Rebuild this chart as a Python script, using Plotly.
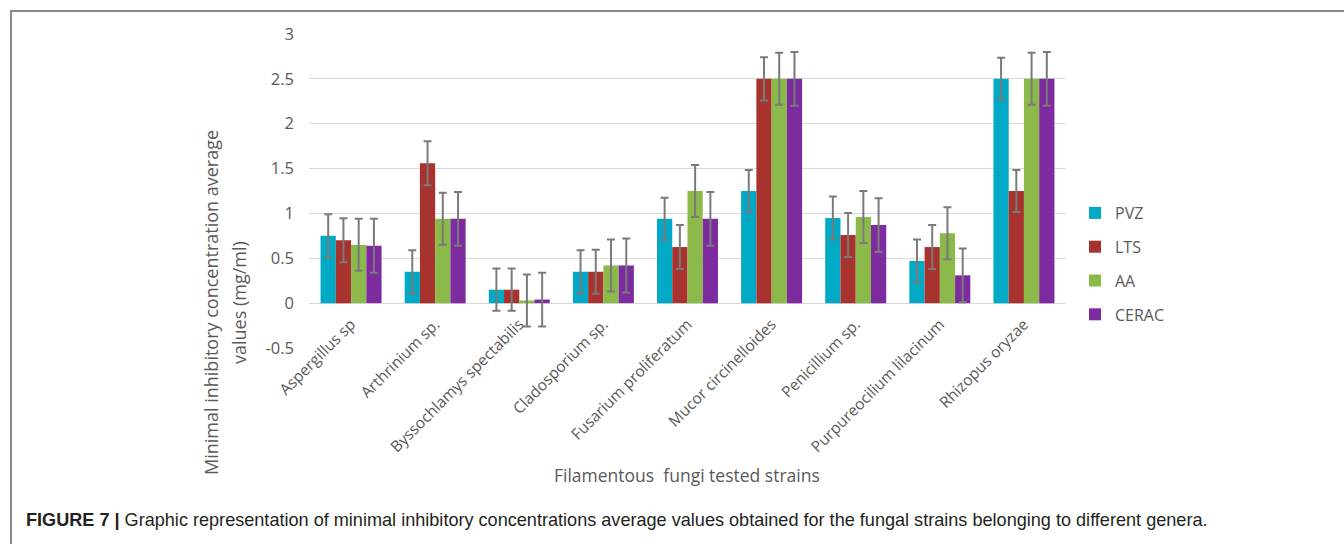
import plotly.graph_objects as go

categories = ["Aspergillus sp", "Arthrinium sp.", "Byssochlamys spectabilis", "Cladosporium sp.",
              "Fusarium proliferatum", "Mucor circinelloides", "Penicillium sp.",
              "Purpureocilium lilacinum", "Rhizopus oryzae"]
series_names = ["PVZ", "LTS", "AA", "CERAC"]

pvz = [0.75, 0.35, 0.15, 0.35, 0.94, 1.25, 0.95, 0.47, 2.5]
lts = [0.70, 1.56, 0.15, 0.35, 0.625, 2.5, 0.76, 0.625, 1.25]
aa = [0.65, 0.94, 0.03, 0.42, 1.25, 2.5, 0.96, 0.78, 2.5]
cerac = [0.64, 0.94, 0.04, 0.42, 0.94, 2.5, 0.87, 0.31, 2.5]

pvz_err = [0.24, 0.24, 0.235, 0.24, 0.235, 0.235, 0.24, 0.24, 0.235]
lts_err = [0.245, 0.245, 0.235, 0.245, 0.245, 0.24, 0.245, 0.245, 0.235]
aa_err = [0.29, 0.29, 0.29, 0.29, 0.29, 0.29, 0.29, 0.29, 0.29]
cerac_err = [0.30, 0.30, 0.30, 0.30, 0.30, 0.30, 0.30, 0.30, 0.30]

y_tickvals = [-0.5, 0, 0.5, 1, 1.5, 2, 2.5, 3]
y_ticktext = ["-0.5", "0", "0.5", "1", "1.5", "2", "2.5", "3"]

values = [pvz, lts, aa, cerac]
errors = [pvz_err, lts_err, aa_err, cerac_err]
colors = ["#00A9C5", "#A8322D", "#8BBA4B", "#7E2BA0"]

W, H = 1344, 544
L, R, T, B = 309, 1066, 34, 348  # plot area pixels


def px(x):
    return (x - L) / (R - L)


def py(y):
    return (B - y) / (B - T)


fig = go.Figure()
for name, v, e, c in zip(series_names, values, errors, colors):
    fig.add_trace(go.Bar(
        x=categories, y=v, name=name, legendgroup=name,
        marker=dict(color=c, line=dict(width=0)),
        error_y=dict(type="data", array=e, visible=True, color="#7a7a7a",
                     thickness=2, width=4),
    ))

txt = "#595959"
font = "Open Sans"

fig.update_layout(
    width=W, height=H,
    margin=dict(l=L, r=W - R, t=T, b=H - B, autoexpand=False),
    paper_bgcolor="white", plot_bgcolor="white",
    barmode="group", bargap=0.275, bargroupgap=0,
    font=dict(family=font, color=txt),
    showlegend=True,
    legend=dict(x=px(1075), y=py(196), xanchor="left", yanchor="top",
                font=dict(size=16, color=txt, family=font),
                tracegroupgap=10, bgcolor="rgba(0,0,0,0)"),
    xaxis=dict(anchor="free", position=py(303.3), showline=False, showgrid=False,
               zeroline=False, ticks="", tickangle=-45, ticklabelstandoff=8,
               tickfont=dict(size=15.5, color=txt, family=font), automargin=False),
    yaxis=dict(range=[-0.5, 3], tickvals=y_tickvals, ticktext=y_ticktext,
               showgrid=True, gridcolor="#d9d9d9", gridwidth=1,
               zeroline=False, showline=False, ticks="",
               ticklabelstandoff=14,
               tickfont=dict(size=16.5, color=txt, family=font), automargin=False),
)

# axis titles
fig.add_annotation(text="Minimal inhibitory concentration average", textangle=-90,
                   xref="paper", yref="paper", x=px(211), y=py(303),
                   xanchor="center", yanchor="middle", showarrow=False,
                   font=dict(size=18, color=txt, family=font))
fig.add_annotation(text="values (mg/ml)", textangle=-90,
                   xref="paper", yref="paper", x=px(239), y=py(303),
                   xanchor="center", yanchor="middle", showarrow=False,
                   font=dict(size=18, color=txt, family=font))
fig.add_annotation(text="Filamentous  fungi tested strains",
                   xref="paper", yref="paper", x=px(687), y=py(475),
                   xanchor="center", yanchor="middle", showarrow=False,
                   font=dict(size=17.5, color=txt, family=font))

# caption
fig.add_annotation(text="<b>FIGURE 7 |</b> Graphic representation of minimal inhibitory concentrations "
                        "average values obtained for the fungal strains belonging to different genera.",
                   xref="paper", yref="paper", x=px(24), y=py(520),
                   xanchor="left", yanchor="middle", showarrow=False,
                   font=dict(size=18.1, color="#231f20", family="Liberation Sans"))

# frame
fig.add_shape(type="path", xref="paper", yref="paper",
              path=f"M {px(11)} {py(548)} L {px(11)} {py(11)} L {px(1348)} {py(11)}",
              line=dict(color="#8a8a8a", width=2))

fig.write_html("out.html", config={"displayModeBar": False},
               post_script="document.body.style.margin='0';document.body.style.overflow='hidden';")
